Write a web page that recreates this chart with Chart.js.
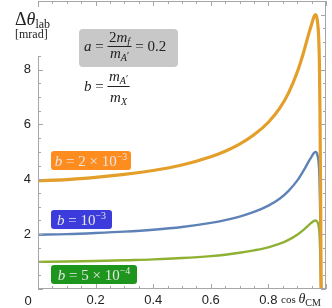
<!DOCTYPE html>
<html>
<head>
    <title>Delta theta lab</title>
    <script src="https://cdn.jsdelivr.net/npm/chart.js"></script>
    <style>
        html, body { margin: 0; padding: 0; background: #fff; }
        canvas { display: block; }
    </style>
</head>
<body>
<canvas id="thetaChart" width="332" height="308"></canvas>
<script>
    // values
    const cosTheta = [0, 0.1, 0.2, 0.3, 0.4, 0.5, 0.6, 0.65, 0.7, 0.75, 0.8, 0.84, 0.87, 0.9, 0.92, 0.94, 0.95, 0.958, 0.963, 0.967, 0.971, 0.974, 0.977, 0.979, 0.981, 0.982, 0.983];
    const b2e3 = [3.95, 3.99, 4.07, 4.18, 4.32, 4.52, 4.82, 5.02, 5.28, 5.62, 6.08, 6.6, 7.15, 7.9, 8.55, 9.3, 9.65, 9.92, 10.0, 9.95, 9.7, 9.3, 8.3, 6.5, 4.0, 2.2, 0];
    const b1e3 = [1.98, 2.0, 2.04, 2.09, 2.16, 2.26, 2.41, 2.51, 2.64, 2.81, 3.04, 3.3, 3.58, 3.95, 4.28, 4.65, 4.83, 4.96, 5.0, 4.97, 4.85, 4.65, 4.15, 3.25, 2.0, 1.1, 0];
    const b5e4 = [0.99, 1.0, 1.02, 1.05, 1.08, 1.13, 1.2, 1.25, 1.32, 1.41, 1.52, 1.65, 1.79, 1.98, 2.14, 2.33, 2.42, 2.48, 2.5, 2.48, 2.42, 2.32, 2.08, 1.62, 1.0, 0.55, 0];
    const xTickLabels = [0.2, 0.4, 0.6, 0.8];
    const yTickLabels = [2, 4, 6, 8];

    const SERIF = '"Liberation Serif", "DejaVu Serif", serif';

    function pts(ys) {
        return cosTheta.map((c, i) => ({ x: c, y: ys[i] }));
    }

    // draw a row of text pieces: [text, font, dy]
    function runs(ctx, x, y, parts, measureOnly) {
        let w = 0;
        parts.forEach(p => {
            ctx.font = p[1];
            if (!measureOnly) ctx.fillText(p[0], x + w, y + (p[2] || 0));
            w += ctx.measureText(p[0]).width;
        });
        return w;
    }

    function frac(ctx, x, barY, num, den, numY, denY) {
        const wn = runs(ctx, 0, 0, num, true);
        const wd = runs(ctx, 0, 0, den, true);
        const w = Math.max(wn, wd) + 3;
        runs(ctx, x + (w - wn) / 2, numY, num);
        runs(ctx, x + (w - wd) / 2, denY, den);
        ctx.fillRect(x, barY - 0.5, w, 1);
        return w;
    }

    function roundBox(ctx, x, y, w, h, r, color) {
        ctx.fillStyle = color;
        ctx.beginPath();
        ctx.roundRect(x, y, w, h, r);
        ctx.fill();
    }

    const framePlugin = {
        id: 'frame',
        afterDatasetsDraw(chart) {
            const ctx = chart.ctx;
            const a = chart.chartArea;
            const xs = chart.scales.x, ys = chart.scales.y;
            ctx.save();
            ctx.strokeStyle = '#a6a6a6';
            ctx.lineWidth = 1;
            ctx.strokeRect(Math.round(a.left) + 0.5, Math.round(a.top) + 0.5,
                Math.round(a.right - a.left) - 1, Math.round(a.bottom - a.top) - 1);
            ctx.beginPath();
            for (let i = 0; i <= 20; i++) {
                const v = i * 0.05;
                const len = (i % 4 === 0) ? 5 : 3;
                const px = Math.round(xs.getPixelForValue(v)) + 0.5;
                ctx.moveTo(px, a.bottom); ctx.lineTo(px, a.bottom - len);
                ctx.moveTo(px, a.top); ctx.lineTo(px, a.top + len);
            }
            for (let i = 0; i <= 21; i++) {
                const v = i * 0.5;
                const len = (i % 4 === 0) ? 5 : 3;
                const py = Math.round(ys.getPixelForValue(v)) + 0.5;
                ctx.moveTo(a.left, py); ctx.lineTo(a.left + len, py);
                ctx.moveTo(a.right, py); ctx.lineTo(a.right - len, py);
            }
            ctx.stroke();
            ctx.restore();
        },
        afterDraw(chart) {
            const ctx = chart.ctx;
            ctx.save();
            ctx.textBaseline = 'alphabetic';

            // white patch behind the y title (it sits over the frame)
            ctx.fillStyle = '#fff';
            ctx.fillRect(12, 7, 44, 49);
            ctx.fillStyle = '#222';

            // origin label
            ctx.font = '13px "Liberation Sans", Arial, sans-serif';
            ctx.textAlign = 'center';
            ctx.fillText('0', 28, 305);
            ctx.textAlign = 'left';

            // axis titles
            runs(ctx, 15, 25, [['\u0394', '18px ' + SERIF], ['\u03b8', 'italic 18px ' + SERIF], ['lab', '12px ' + SERIF, 3]]);
            runs(ctx, 15, 38, [['[mrad]', '12px ' + SERIF]]);
            runs(ctx, 281, 303, [['cos ', '11px ' + SERIF], ['\u03b8', 'italic 14px ' + SERIF], ['CM', '10px ' + SERIF, 3]]);

            // parameter box
            roundBox(ctx, 79, 29, 99, 38, 4, '#c8c8c8');
            ctx.fillStyle = '#222';
            const it = 'italic 15px ' + SERIF, rm = '15px ' + SERIF;
            const itS = 'italic 10px ' + SERIF;
            let x = 84;
            x += runs(ctx, x, 51, [['a', it], [' = ', rm]]);
            x += frac(ctx, x, 46.5, [['2', rm], ['m', it], ['f', itS, 3]],
                [['m', it], ['A', itS, 3], ['\u2032', '10px ' + SERIF, 1]], 42, 58);
            runs(ctx, x, 51, [[' = 0.2', rm]]);

            x = 84;
            x += runs(ctx, x, 91, [['b', it], [' = ', rm]]);
            frac(ctx, x, 86.5, [['m', it], ['A', itS, 3], ['\u2032', '10px ' + SERIF, 1]],
                [['m', it], ['X', itS, 3]], 81, 102);

            // curve labels
            const boxes = [
                [51, 151, 80, '#ff8c1e', [['b', it], [' = 2 \u00d7 10', rm], ['\u22123', '10px ' + SERIF, -6]]],
                [51, 210, 61, '#3c3cdc', [['b', it], [' = 10', rm], ['\u22123', '10px ' + SERIF, -6]]],
                [51, 265, 86, '#1e961e', [['b', it], [' = 5 \u00d7 10', rm], ['\u22124', '10px ' + SERIF, -6]]]
            ];
            boxes.forEach(bx => {
                roundBox(ctx, bx[0], bx[1], bx[2], 19, 3, bx[3]);
                ctx.fillStyle = '#e6e6e6';
                const w = runs(ctx, 0, 0, bx[4], true);
                runs(ctx, bx[0] + (bx[2] - w) / 2, bx[1] + 15, bx[4]);
            });
            ctx.restore();
        }
    };

    const ctx = document.getElementById('thetaChart').getContext('2d');
    const chart = new Chart(ctx, {
        type: 'line',
        data: {
            datasets: [
                { label: 'b = 2e-3', data: pts(b2e3), borderColor: '#e49e2a', borderWidth: 3.2 },
                { label: 'b = 1e-3', data: pts(b1e3), borderColor: '#5e82b8', borderWidth: 2.4 },
                { label: 'b = 5e-4', data: pts(b5e4), borderColor: '#8fb133', borderWidth: 2.4 }
            ]
        },
        options: {
            responsive: false,
            animation: false,
            devicePixelRatio: 1,
            layout: { padding: { top: 1, right: 6, left: 0, bottom: 0 } },
            elements: {
                point: { radius: 0 },
                line: { cubicInterpolationMode: 'monotone', fill: false, borderCapStyle: 'round' }
            },
            plugins: { legend: { display: false }, tooltip: { enabled: false } },
            scales: {
                x: {
                    type: 'linear', min: 0, max: 1,
                    grid: { display: false, drawTicks: false },
                    border: { display: false },
                    ticks: {
                        stepSize: 0.2, maxRotation: 0, autoSkip: false, padding: 4,
                        color: '#222', font: { family: '"Liberation Sans", Arial, sans-serif', size: 13 },
                        callback: v => xTickLabels.some(t => Math.abs(t - v) < 1e-9) ? v.toFixed(1) : ''
                    },
                    afterFit: s => { s.height = 19; s.paddingLeft = 0; s.paddingRight = 0; }
                },
                y: {
                    min: 0, max: 10.5,
                    grid: { display: false, drawTicks: false },
                    border: { display: false },
                    ticks: {
                        stepSize: 2, padding: 7, autoSkip: false,
                        color: '#222', font: { family: '"Liberation Sans", Arial, sans-serif', size: 13 },
                        callback: v => yTickLabels.includes(v) ? String(v) : ''
                    },
                    afterFit: s => { s.width = 38; s.paddingTop = 0; s.paddingBottom = 0; }
                }
            }
        },
        plugins: [framePlugin]
    });
</script>
</body>
</html>
